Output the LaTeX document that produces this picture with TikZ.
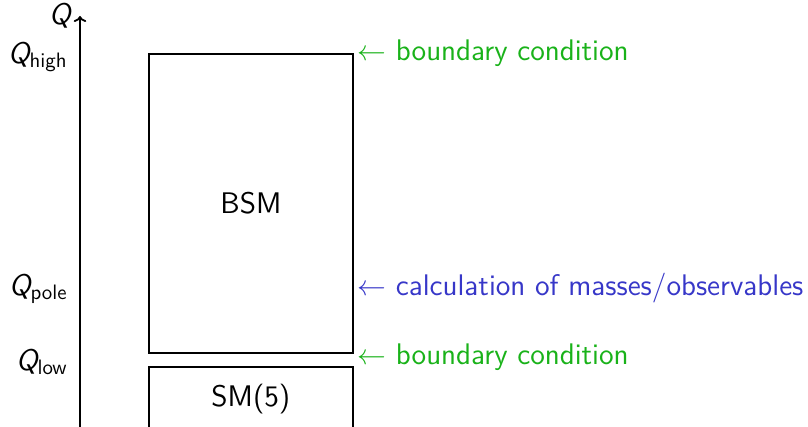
\documentclass[tikz,border=0pt]{standalone}
\usetikzlibrary{arrows.meta}
\definecolor{bcgreen}{RGB}{25,178,25}
\definecolor{calcblue}{RGB}{55,55,200}
\newcommand\Qlab[1]{{\slshape Q}\textsubscript{#1}}
\begin{document}
\begin{tikzpicture}[x=0.5pt,y=-0.5pt,
  every node/.style={font=\sffamily\fontsize{14.9}{17}\selectfont},
  regionbox/.style={draw,line width=0.9pt},
  scalelab/.style={anchor=east,inner sep=0pt},
  notelab/.style={anchor=west,inner sep=0pt}]
\useasboundingbox (0,0) rectangle (808,427);
% energy scale axis
\coordinate (axbot) at (80,430);
\coordinate (axtop) at (80,16);
\draw[line width=0.9pt,-{To[length=3pt]}] (axbot) -- (axtop);
\node[scalelab] (qaxis) at (71,16) {\slshape Q};
\node[scalelab] (qhigh) at (68,57) {\Qlab{high}};
\node[scalelab] (qpole) at (68,289) {\Qlab{pole}};
\node[scalelab] (qlow) at (68,362) {\Qlab{low}};
% regions of validity
\node[regionbox,minimum width=102pt,minimum height=149.5pt,anchor=north west] (bsm) at (148,53) {BSM};
\node[regionbox,minimum width=102pt,minimum height=32pt,anchor=north west] (sm) at (148,366) {SM(5)};
% annotations
\node[notelab,text=bcgreen] (bchigh) at (357,53) {$\leftarrow$ boundary condition};
\node[notelab,text=calcblue] (calc) at (357,288) {$\leftarrow$ calculation of masses/observables};
\node[notelab,text=bcgreen] (bclow) at (357,357) {$\leftarrow$ boundary condition};
\end{tikzpicture}
\end{document}
